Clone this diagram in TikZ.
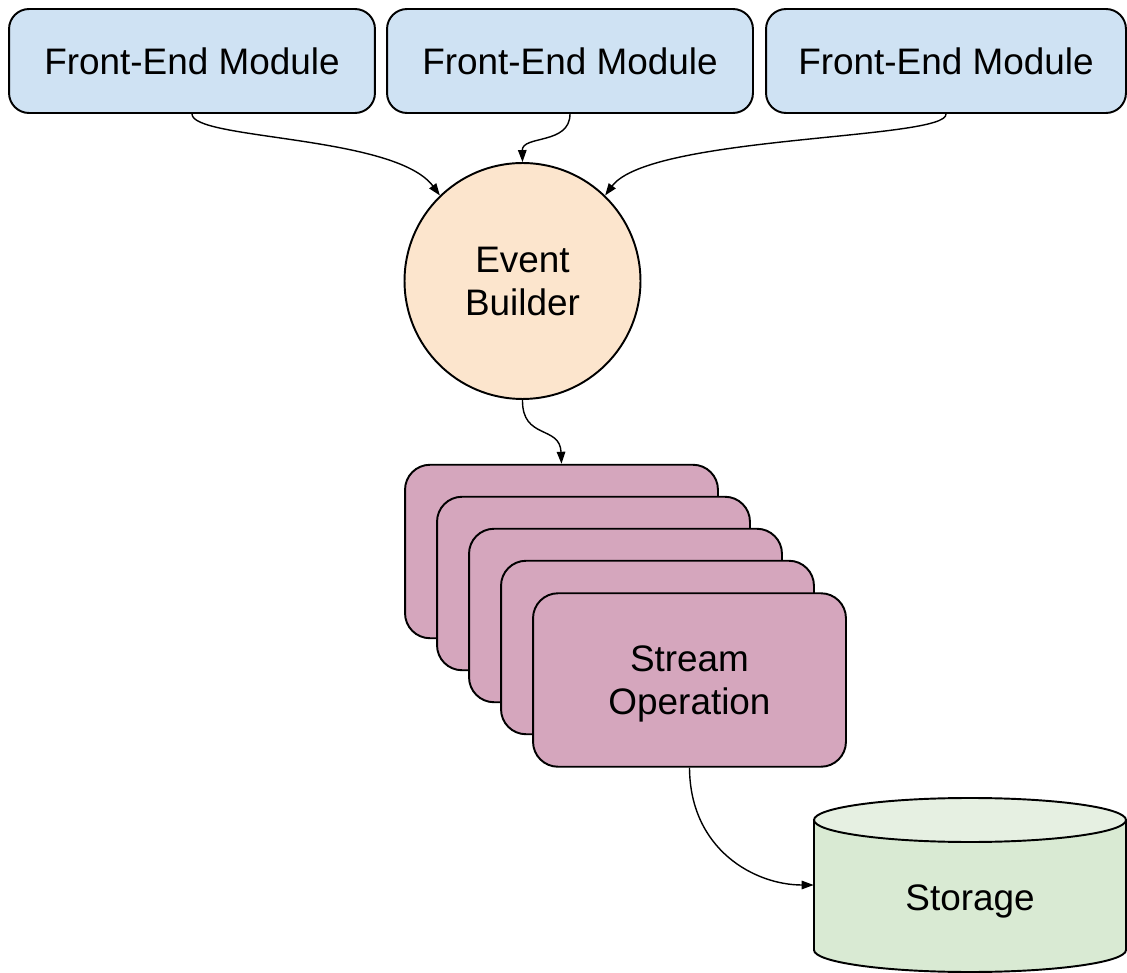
\documentclass[tikz,border=0pt]{standalone}
\usepackage{fontspec}
\setmainfont{Liberation Sans}
\usetikzlibrary{arrows.meta}

\definecolor{feblue}{HTML}{CFE2F3}
\definecolor{ebpeach}{HTML}{FCE5CD}
\definecolor{sopink}{HTML}{D5A6BD}
\definecolor{stgreen}{HTML}{D9EAD3}
\definecolor{sttop}{HTML}{E6F0E2}

\tikzset{
  lbl/.style={font=\fontsize{21}{24.5}\selectfont, align=center},
  frontend/.style={lbl, draw, line width=1.1pt, fill=feblue, rounded corners=0.4cm,
    minimum height=2.08cm, inner sep=0pt},
  builder/.style={lbl, draw, line width=1.1pt, fill=ebpeach, circle,
    minimum size=4.72cm, inner sep=0pt, text depth=0pt},
  streamop/.style={lbl, draw, line width=1.1pt, fill=sopink, rounded corners=0.5cm,
    minimum width=6.26cm, minimum height=3.47cm, inner sep=0pt, text depth=0pt},
  conn/.style={line width=0.8pt, -{Triangle[length=0.24cm, width=0.17cm]}},
}

\begin{document}
\begin{tikzpicture}[x=0.02cm, y=-0.02cm]
\useasboundingbox (0,0) rectangle (1127,973);

% front-end modules
\node[frontend, minimum width=7.32cm] (fe1) at (192,61) {Front-End Module};
\node[frontend, minimum width=7.32cm] (fe2) at (570,61) {Front-End Module};
\node[frontend, minimum width=7.20cm] (fe3) at (946,61) {Front-End Module};

% event builder
\node[builder] (eb) at (522.5,281) {Event\\Builder};

% stacked stream operations
\node[streamop] (so1) at (561.5,551.5) {};
\node[streamop] (so2) at (593.5,583.5) {};
\node[streamop] (so3) at (625.5,615.5) {};
\node[streamop] (so4) at (657.5,647.5) {};
\node[streamop] (so5) at (689.5,680) {Stream\\Operation};

% storage cylinder
\fill[stgreen] (814,820) -- (814,950) arc[start angle=180, end angle=0, x radius=156, y radius=22]
  -- (1126,820) -- cycle;
\fill[sttop] (970,820) ellipse[x radius=156, y radius=22];
\draw[line width=1.1pt] (814,820) -- (814,950) arc[start angle=180, end angle=0, x radius=156, y radius=22]
  -- (1126,820);
\draw[line width=1.1pt] (970,820) ellipse[x radius=156, y radius=22];
\node[minimum width=6.24cm, minimum height=2.6cm, inner sep=0pt] (storage) at (970,885) {};
\node[lbl] (stlabel) at (970,901) {Storage};

% connectors
\draw[conn] (fe1.south) .. controls (192,140) and (395,135) .. (eb.134);
\draw[conn] (fe2.south) .. controls (570,145) and (522,135) .. (eb.north);
\draw[conn] (fe3.south) .. controls (948,140) and (650,135) .. (eb.46);
\draw[conn] (eb.south) .. controls (522,440) and (560,425) .. (so1.north);
\draw[conn] (so5.south) .. controls (690,850) and (755,885) .. (storage.west);
\end{tikzpicture}
\end{document}
